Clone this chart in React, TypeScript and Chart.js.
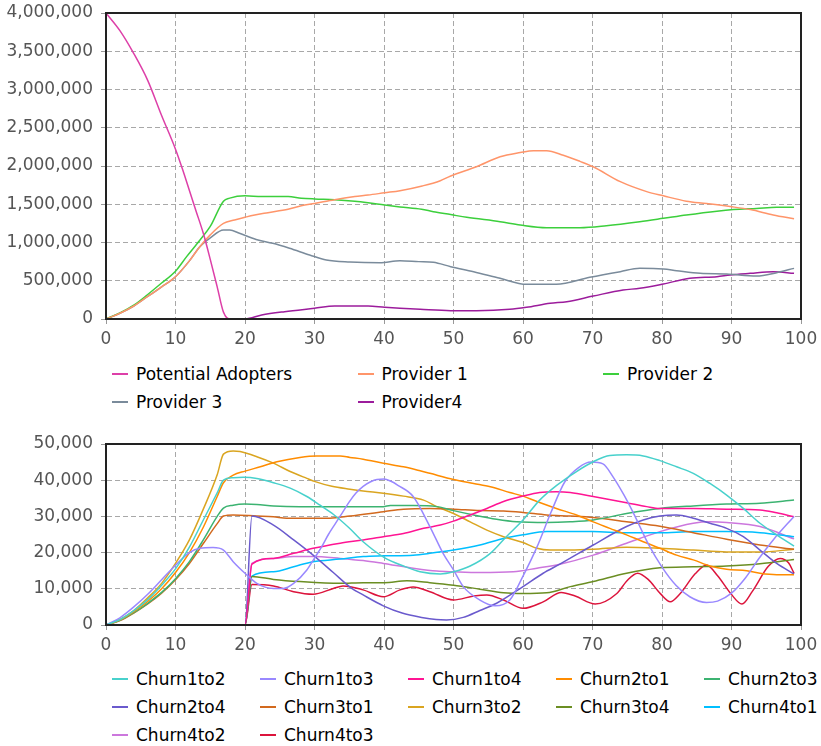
import React, { useEffect, useRef } from 'react';
import { Chart, registerables } from 'chart.js';

Chart.register(...registerables);

type P = [number, number][];

// ---------- Top chart: adopters / providers ----------
const potentialAdopters: P = [[0,4000000],[2,3770000],[4,3470000],[6,3120000],[8,2660000],[10,2220000],[11,1960000],[12,1680000],[13,1400000],[14,1120000],[15,780000],[16,420000],[16.9,90000],[17.8,0],[99,0]];
const provider1: P = [[0,0],[2,75000],[4,170000],[6,295000],[8,420000],[10,553000],[12,760000],[13.5,945000],[15,1100000],[16.9,1250000],[18.5,1294000],[20,1330000],[21.4,1360000],[23.3,1390000],[26.2,1434000],[28.1,1480000],[30,1510000],[32.9,1560000],[35.8,1600000],[37.7,1620000],[40.1,1650000],[42.3,1677000],[45.5,1739000],[48.1,1808000],[49.6,1870000],[53.3,1990000],[56.7,2120000],[59.6,2175000],[61.5,2200000],[63.4,2200000],[65.8,2140000],[68.2,2060000],[70.1,1990000],[74,1795000],[77.8,1665000],[80.2,1610000],[83.5,1540000],[86.4,1510000],[89.8,1470000],[92.7,1430000],[96,1360000],[99,1310000]];
const provider2: P = [[0,0],[2,80000],[4,180000],[6,320000],[8,470000],[10,625000],[11.6,815000],[13.5,1030000],[15,1210000],[16.9,1540000],[17.8,1580000],[20,1610000],[22.4,1600000],[26.2,1600000],[28.1,1580000],[30,1570000],[32.9,1560000],[35.8,1540000],[37.7,1520000],[40.1,1490000],[42.3,1465000],[45.4,1435000],[47.1,1403000],[49.6,1365000],[51.9,1329000],[56.7,1272000],[59.6,1229000],[63.4,1194000],[68.2,1194000],[72,1220000],[76.8,1272000],[80.2,1316000],[83.5,1360000],[87.9,1410000],[90.3,1430000],[93.6,1445000],[96.5,1460000],[99,1460000]];
const provider3: P = [[0,0],[2,75000],[4,170000],[6,295000],[8,420000],[10,553000],[12,760000],[13.5,945000],[15,1060000],[16.9,1163000],[17.8,1163000],[19.2,1120000],[21.6,1040000],[24,989000],[26.4,924000],[29.3,837000],[31.7,771000],[35.1,745000],[39.4,735000],[42.3,762000],[45,750000],[47.1,741000],[49.6,684000],[52.9,619000],[56.7,532000],[60.5,453000],[64.8,453000],[69.6,545000],[74,619000],[76.8,662000],[80.2,654000],[82.1,632000],[85.5,597000],[89.3,588000],[93.6,562000],[96.5,606000],[99,662000]];
const provider4: P = [[0,0],[20,0],[22.4,52000],[25.7,96000],[30,140000],[32.9,170000],[37.7,170000],[40.1,153000],[42.3,140000],[45.2,126000],[49.6,109000],[53.3,109000],[58.1,126000],[60.5,153000],[63.9,205000],[66.3,227000],[70.1,300000],[74.4,379000],[76.8,401000],[80.2,458000],[84,532000],[87.9,553000],[89.8,575000],[92.7,597000],[96,619000],[99,597000]];

// ---------- Bottom chart: churn flows ----------
const churn1to2: P = [[0,0],[2,1500],[4,4000],[6,7000],[8,11000],[10,15500],[12,21500],[14,29000],[16,36500],[16.9,40000],[18.3,40700],[19.8,40800],[21.7,40500],[24.1,39300],[26.5,37800],[28.9,35500],[30.8,33100],[32.7,30600],[35,26800],[37,23000],[40,18700],[42.8,16300],[45.2,14700],[48.1,14100],[50,14700],[52.4,16300],[55.3,19800],[57.6,24400],[60,29000],[62.4,34500],[64.8,38500],[67.7,42400],[70.1,45100],[72.5,46800],[74.9,47000],[77.3,46700],[79.7,45400],[82.1,43700],[84.5,41900],[86.9,39100],[89.3,35900],[91.7,32200],[94.1,28100],[96.5,24900],[99,21800]];
const churn1to3: P = [[0,0],[2,2000],[4,5000],[6,8500],[8,12500],[10,16500],[12,20000],[13.5,21200],[15.4,21400],[16.9,20700],[18.3,17500],[20,14300],[21.7,11500],[23,10400],[24.1,10100],[25.5,10100],[27,11500],[28.9,15200],[30,18500],[31,21500],[32,25000],[33,28000],[34,31000],[35,34000],[36,36500],[37,38300],[38,39500],[39,40200],[40,40300],[41,39700],[42,38600],[44.2,35500],[46.6,27200],[48.5,19800],[50,15200],[51.4,10600],[53.8,6900],[56,5300],[58.1,6900],[60,13500],[62,21500],[64,31000],[66,39500],[68,43500],[69.8,45000],[71.5,44500],[73,40800],[74.5,36000],[76,30500],[78,22500],[80,16000],[82,11000],[84,7800],[86.4,6200],[88,6600],[90,8800],[92,13000],[94,18500],[96,23500],[99,30000]];
const churn1to4: P = [[0,0],[20,0],[21,16800],[24.1,18400],[27,19800],[29.8,21200],[33.7,22600],[37,23500],[39.9,24400],[42.8,25300],[45.7,26700],[48.1,27600],[50,28700],[52.4,30400],[54.8,32200],[57.2,34100],[60,35600],[62.4,36600],[64.8,36800],[66.8,36600],[70.1,35500],[74.9,33800],[77.8,32700],[79.7,32200],[84.5,32200],[89.3,32000],[94.1,31800],[96.5,31000],[99,29900]];
const churn2to1: P = [[0,0],[2,1400],[4,3700],[6,6500],[8,10000],[10,14500],[12,20000],[14,27000],[16,35500],[16.9,39300],[18.3,41400],[20,42500],[22.2,43700],[24.6,45100],[27.9,46300],[30.3,46700],[33.7,46700],[35.1,46300],[37,45800],[39.9,44700],[42.8,43700],[45.2,42600],[46.6,41900],[50,40200],[52.9,39100],[55.3,38200],[58.1,36600],[60,35600],[62,34100],[64.8,32200],[67.7,30400],[70.1,28500],[72.5,26700],[74.9,24900],[77.3,23000],[79.7,21200],[82.1,19300],[84.5,18000],[86.9,16300],[89.3,15400],[92.2,15000],[94.1,14300],[96.5,13900],[99,13900]];
const churn2to3: P = [[0,0],[2,1300],[4,3400],[6,6000],[8,9000],[10,12800],[12,17500],[14,23500],[16,30000],[16.9,32300],[18.3,33100],[20,33400],[21.7,33300],[24.1,32900],[27.9,32700],[39.9,32700],[40.9,33000],[44.2,33000],[47.6,32700],[50,31600],[52.9,30400],[56.2,29200],[59.1,28500],[63.4,28300],[66.8,28500],[70.1,29000],[74.9,30800],[79.7,32200],[84.5,32900],[89.3,33400],[94.1,33600],[99,34500]];
const churn2to4: P = [[0,0],[20,0],[21,30100],[24.1,27600],[27,23500],[29.8,19300],[32.7,14500],[35.3,10200],[37,8300],[39.9,5300],[42.6,3300],[45.4,2100],[47.5,1500],[49,1400],[51.4,2100],[53.8,4000],[56.2,6000],[60,10600],[62.9,14300],[65.3,16800],[70.1,22100],[74.9,27200],[77.3,29000],[79.7,30100],[82.1,30400],[84.5,29500],[86.9,28100],[89.3,26700],[91.7,24400],[94.1,20700],[96.5,17000],[99,14100]];
const churn3to1: P = [[0,0],[2,1200],[4,3300],[6,5800],[8,8800],[10,12500],[12,17000],[14,22500],[16,28000],[16.9,30100],[18.3,30400],[21.7,30100],[24.1,29900],[26,29500],[32.2,29500],[35.1,30100],[39.9,31300],[42.8,32000],[46.6,32200],[50,32000],[53.8,31600],[57.2,31500],[60,31100],[63.4,30400],[66.8,30100],[70.1,29700],[74.9,28500],[79.7,27300],[84.5,25500],[89.3,23700],[94.1,22100],[99,20900]];
const churn3to2: P = [[0,0],[2,1500],[4,4000],[6,7500],[8,11500],[10,17000],[12,23500],[14,32000],[16,41500],[16.9,47200],[18.3,48100],[19.3,47900],[21.7,46500],[24.1,44700],[26.5,42400],[28.9,40500],[30.1,39600],[32.5,38300],[35.1,37500],[37,37000],[39.9,36400],[42.8,35600],[45.7,34500],[47.6,32700],[50,30800],[52.4,28500],[54.8,26200],[57.2,24400],[60,22800],[62,21200],[63.9,20700],[66.8,20700],[70.1,20900],[74.9,21500],[79.7,21200],[84.5,20700],[89.3,20200],[94.1,20200],[99,20900]];
const churn3to4: P = [[0,0],[20,0],[21,13400],[24.1,12600],[27.9,12000],[33.7,11500],[37,11700],[40,11700],[43.3,12200],[46.6,11700],[50,11000],[53.8,9900],[57.2,8900],[60,8700],[63.4,8900],[66.8,10600],[70.1,12000],[74.9,14300],[79.7,15800],[84.5,16100],[89.3,16300],[94.1,16900],[99,18100]];
const churn4to1: P = [[0,0],[20,0],[21,13500],[24.1,14700],[27,16100],[29.8,17500],[33.7,18200],[37,18900],[39.9,19100],[44.2,19300],[46.6,19800],[50,20700],[53.8,22100],[57.2,23900],[60,24900],[63.4,25800],[70,25800],[74.9,25500],[79.7,25500],[84.5,25800],[89.3,25800],[94.1,25500],[99,24400]];
const churn4to2: P = [[0,0],[20,0],[21,17000],[24.1,18400],[27,18900],[29.8,18900],[33.7,18400],[37,17800],[39.9,17000],[44.2,15700],[47.6,14900],[50,14700],[53.8,14500],[58.6,14700],[62,15700],[65.3,16800],[70.1,19300],[74.9,22600],[79.7,25800],[84.5,28100],[86.9,28500],[89.3,28300],[94.1,27200],[99,23800]];
const churn4to3: P = [[0,0],[20,0],[21,11200],[24.1,10800],[27,9200],[29.8,8500],[32.7,10100],[34.1,10800],[37,9700],[39.9,7800],[42.3,9700],[44.2,10500],[46.6,9200],[50,6900],[52.9,8000],[54.8,8300],[57.2,6900],[60,4600],[62.9,6400],[65.5,9000],[67.5,8000],[70.4,5800],[73.5,8700],[75,12300],[76.5,14300],[78,12600],[79.8,8600],[81.2,6400],[82.5,8400],[84.8,14200],[86.4,16600],[88,13600],[90,8400],[91.5,5800],[93,9300],[95.3,16200],[97,18400],[98.2,17200],[99,14300]];

// ---------- Axis ticks ----------
const topYMax = 4000000;
const topYStep = 500000;
const bottomYMax = 50000;
const bottomYStep = 10000;
const xMin = 0;
const xMax = 100;
const xStep = 10;

type S = { label: string; color: string; data: P };

const topSeries: S[] = [
  { label: 'Potential Adopters', color: '#dd3fa8', data: potentialAdopters },
  { label: 'Provider 1', color: '#ff956a', data: provider1 },
  { label: 'Provider 2', color: '#3ccf3c', data: provider2 },
  { label: 'Provider 3', color: '#7a8b9b', data: provider3 },
  { label: 'Provider4', color: '#9c1c9c', data: provider4 },
];

const bottomSeries: S[] = [
  { label: 'Churn1to2', color: '#48d1cc', data: churn1to2 },
  { label: 'Churn1to3', color: '#9988ff', data: churn1to3 },
  { label: 'Churn1to4', color: '#ff1493', data: churn1to4 },
  { label: 'Churn2to1', color: '#ff8c00', data: churn2to1 },
  { label: 'Churn2to3', color: '#3cb371', data: churn2to3 },
  { label: 'Churn2to4', color: '#6a5acd', data: churn2to4 },
  { label: 'Churn3to1', color: '#d2691e', data: churn3to1 },
  { label: 'Churn3to2', color: '#daa520', data: churn3to2 },
  { label: 'Churn3to4', color: '#6b8e23', data: churn3to4 },
  { label: 'Churn4to1', color: '#00bfff', data: churn4to1 },
  { label: 'Churn4to2', color: '#cc77dd', data: churn4to2 },
  { label: 'Churn4to3', color: '#dc143c', data: churn4to3 },
];

const FONT = '"DejaVu Sans", Verdana, sans-serif';

const framePlugin = {
  id: 'frame',
  afterDatasetsDraw(chart: any) {
    const { ctx, chartArea: a } = chart;
    ctx.save();
    ctx.strokeStyle = '#222';
    ctx.lineWidth = 2;
    ctx.strokeRect(a.left, a.top, a.right - a.left, a.bottom - a.top);
    ctx.restore();
  },
};

function buildChart(canvas: HTMLCanvasElement, series: S[], yMax: number, yStep: number, topPad: number) {
  return new Chart(canvas, {
    type: 'line',
    data: {
      datasets: series.map((s) => ({
        label: s.label,
        data: s.data.map(([x, y]) => ({ x, y })),
        borderColor: s.color,
        backgroundColor: s.color,
        borderWidth: 1.5,
        pointRadius: 0,
        fill: false,
        cubicInterpolationMode: 'monotone' as const,
      })),
    },
    options: {
      animation: false,
      responsive: false,
      maintainAspectRatio: false,
      layout: { padding: { top: topPad, right: 20, left: 0, bottom: 0 } },
      plugins: { legend: { display: false }, tooltip: { enabled: false } },
      scales: {
        x: {
          type: 'linear',
          min: xMin,
          max: xMax,
          afterFit: (scale: any) => {
            scale.height = 33;
            scale.paddingLeft = 0;
            scale.paddingRight = 0;
          },
          ticks: {
            stepSize: xStep,
            color: '#555',
            font: { family: FONT, size: 17 },
            padding: 5,
            maxRotation: 0,
            callback: (v: any) => String(v),
          },
          grid: { color: '#a8a8a8', lineWidth: 1, tickLength: 5, tickColor: '#999', tickBorderDash: [] },
          border: { display: true, color: '#222', width: 2, dash: [5, 3] },
        },
        y: {
          type: 'linear',
          min: 0,
          max: yMax,
          afterFit: (scale: any) => {
            scale.width = 106;
            scale.paddingTop = 0;
            scale.paddingBottom = 0;
          },
          ticks: {
            stepSize: yStep,
            color: '#555',
            font: { family: FONT, size: 17 },
            padding: 8,
            callback: (v: any) => Number(v).toLocaleString('en-US'),
          },
          grid: { color: '#a8a8a8', lineWidth: 1, tickLength: 5, tickColor: '#999', tickBorderDash: [] },
          border: { display: true, color: '#222', width: 2, dash: [5, 3] },
        },
      },
    } as any,
    plugins: [framePlugin],
  });
}

function Legend({ series, cols, colWidth, top }: { series: S[]; cols: number; colWidth: number; top: number }) {
  return (
    <div
      style={{
        position: 'absolute',
        left: 112,
        top,
        display: 'grid',
        gridTemplateColumns: `repeat(${cols}, ${colWidth}px)`,
        fontFamily: FONT,
        fontSize: 17,
        lineHeight: '28px',
        color: '#000',
        whiteSpace: 'nowrap',
      }}
    >
      {series.map((s) => (
        <div key={s.label} style={{ display: 'flex', alignItems: 'center', height: 28 }}>
          <span style={{ display: 'inline-block', width: 16, height: 2, background: s.color, marginRight: 8 }} />
          <span>{s.label}</span>
        </div>
      ))}
    </div>
  );
}

export default function App() {
  const topRef = useRef<HTMLCanvasElement>(null);
  const bottomRef = useRef<HTMLCanvasElement>(null);

  useEffect(() => {
    document.body.style.margin = '0';
    Chart.defaults.font.family = FONT;
    const c1 = buildChart(topRef.current!, topSeries, topYMax, topYStep, 13);
    const c2 = buildChart(bottomRef.current!, bottomSeries, bottomYMax, bottomYStep, 14);
    return () => {
      c1.destroy();
      c2.destroy();
    };
  }, []);

  return (
    <div style={{ position: 'relative', width: 821, height: 746, background: '#fff', overflow: 'hidden' }}>
      <canvas ref={topRef} width={821} height={352} style={{ position: 'absolute', left: 0, top: 0, display: 'block' }} />
      <Legend series={topSeries} cols={3} colWidth={245.5} top={360} />
      <canvas ref={bottomRef} width={821} height={228} style={{ position: 'absolute', left: 0, top: 430, display: 'block' }} />
      <Legend series={bottomSeries} cols={5} colWidth={148} top={665} />
    </div>
  );
}
